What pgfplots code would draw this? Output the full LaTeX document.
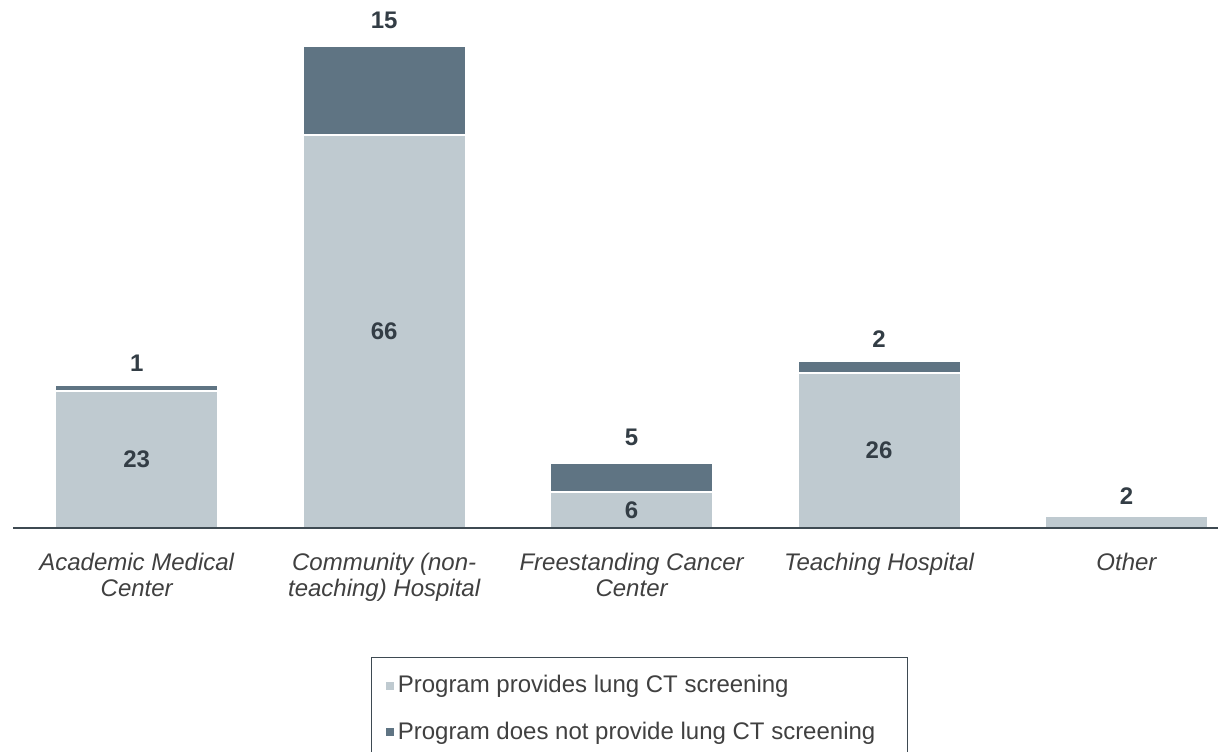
\documentclass[border=0pt]{standalone}
\usepackage{fontspec}
\setmainfont{Liberation Sans}
\usepackage{pgfplots}
\usepackage{pgfplotstable}
\pgfplotsset{compat=1.18}

\definecolor{lightbar}{HTML}{BFCAD0}
\definecolor{darkbar}{HTML}{5F7483}
\definecolor{numtxt}{HTML}{333D45}
\definecolor{cattxt}{HTML}{404040}
\definecolor{axln}{HTML}{3E4A52}

% off = label offset in y units from the middle of the segment
\pgfplotstableread[col sep=comma]{
x,y,lab,off
0,23,23,0
1,66,66,0
2,6,6,0
3,26,26,0
4,2,2,4.3
}\provides
\pgfplotstableread[col sep=comma]{
x,y,lab,off
0,1,1,4.1
1,15,15,11.8
2,5,5,6.8
3,2,2,4.7
4,0,,0
}\notprovides

\begin{document}
\begin{tikzpicture}
\begin{axis}[
    ybar stacked,
    width=602.5pt, height=259pt,
    scale only axis,
    bar width=81.5pt,
    xmin=-0.5, xmax=4.37,
    ymin=0, ymax=87,
    axis on top,
    axis x line*=bottom,
    axis y line=none,
    x axis line style={draw=axln, line width=1pt, -},
    xtick={0,1,2,3,4},
    xticklabels={{Academic Medical\\Center}, {Community (non-\\teaching) Hospital}, {Freestanding Cancer\\Center}, Teaching Hospital, Other},
    xtick style={draw=none},
    xticklabel style={font=\fontsize{12}{13}\selectfont\itshape, text=cattxt,
        align=center, yshift=-9pt},
    point meta=explicit symbolic,
    visualization depends on={\thisrow{off} \as \off},
    nodes near coords={\textbf{\pgfplotspointmeta}},
    every node near coord/.append style={font=\fontsize{12}{13}\selectfont, text=numtxt,
        anchor=center, shift={(axis direction cs:0,\off)}},
    legend style={at={(0.52,-0.249)}, anchor=north, draw=axln, line width=0.6pt,
        font=\fontsize{12}{13}\selectfont, text=cattxt,
        inner xsep=7pt, inner ysep=7pt, row sep=9pt},
    legend cell align=left,
    legend image code/.code={\fill[#1, draw=none] (0pt,-2pt) rectangle (4pt,2pt);},
]
\addplot+[fill=lightbar, draw=white, line width=1pt]
    table[x=x, y=y, meta=lab] {\provides};
\addplot+[fill=darkbar, draw=white, line width=1pt]
    table[x=x, y=y, meta=lab] {\notprovides};
\legend{Program provides lung CT screening, Program does not provide lung CT screening\hspace*{7pt}}
\coordinate (o) at (rel axis cs:0,0);
\end{axis}
\pgfresetboundingbox
\path (o) ++(-6.5pt,-111.5pt) rectangle ++(616pt,375.5pt);
\end{tikzpicture}
\end{document}
